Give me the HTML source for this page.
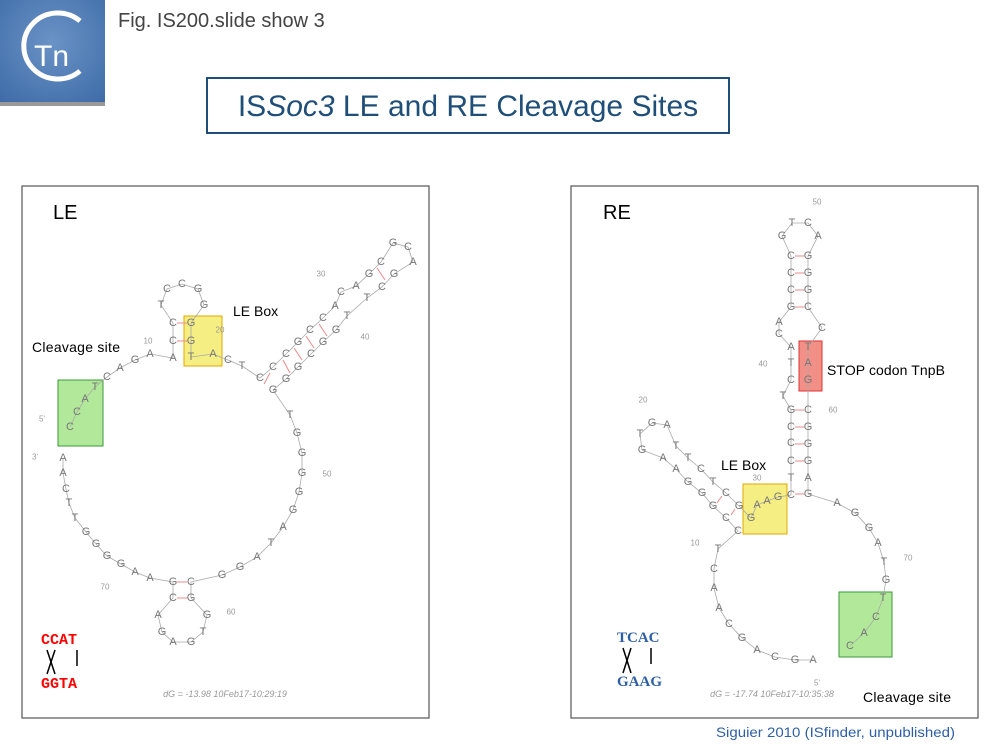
<!DOCTYPE html>
<html><head><meta charset="utf-8"><style>
body{margin:0;background:#fff;}
svg{display:block;font-family:"Liberation Sans",sans-serif;}
.n{font-size:11px;fill:#777;text-anchor:middle;dominant-baseline:central;}
.s{font-size:8px;fill:#999;text-anchor:middle;dominant-baseline:central;}
.bb{fill:none;stroke:#aaa;stroke-width:0.8;}
.lab{font-size:14px;fill:#000;}
</style></head><body>
<svg width="1000" height="750" viewBox="0 0 1000 750">
<defs><radialGradient id="lg" cx="0.5" cy="0.4" r="0.75"><stop offset="0" stop-color="#6a93c6"/><stop offset="1" stop-color="#3f6ca8"/></radialGradient></defs>
<rect x="0" y="0" width="105" height="104" fill="url(#lg)"/>
<rect x="0" y="102" width="105" height="4" fill="#999"/>
<path d="M80 21 A34 33 0 1 0 80 71" fill="none" stroke="#fff" stroke-width="5"/>
<text x="34" y="66" font-size="30" fill="#fff">Tn</text>
<text x="118" y="27" font-size="20" fill="#444">Fig. IS200.slide show 3</text>
<rect x="207" y="78" width="522" height="55" fill="#fff" stroke="#1f4e79" stroke-width="2"/>
<text x="468" y="116" font-size="30" fill="#1f4e79" text-anchor="middle">IS<tspan font-style="italic">Soc3</tspan> LE and RE Cleavage Sites</text>
<rect x="22" y="186" width="407" height="532" fill="#fff" stroke="#555" stroke-width="1.2"/>
<rect x="571" y="186" width="407" height="532" fill="#fff" stroke="#555" stroke-width="1.2"/>
<text x="716" y="737" font-size="14" fill="#2e5fa5" textLength="239" lengthAdjust="spacingAndGlyphs">Siguier 2010 (ISfinder, unpublished)</text>

<!-- LE -->
<rect x="58" y="380" width="45" height="66" fill="#9fe27f" fill-opacity="0.8" stroke="#3a9a3a"/>
<rect x="184" y="316" width="38" height="50" fill="#f2e85a" fill-opacity="0.75" stroke="#e0a800"/>
<polyline class="bb" points="70,427 77,412 85,399 95,387 107,377 120,368 135,360 150,354 173,358 173,341 173,323 161,305 167,289 182,284 198,289 204,305 191,323 191,341 191,357 213,354 228,360 242,366 260,378 273,367 286,354 298,342 310,330 323,318 335,306 341,292 356,286 369,274 381,262 393,243 408,247 413,262 394,274 382,287 367,298 347,316 336,330 323,342 311,354 298,367 286,379 273,390 290,415 297,433 302,453 302,473 299,492 293,510 283,527 271,543 257,557 240,567 222,575 191,582 191,598 207,615 203,632 191,642 173,642 162,632 158,615 173,598 173,582 150,578 135,572 121,564 107,556 96,544 86,532 75,518 69,503 66,489 63,473 63,458"/>
<g stroke="#e88" stroke-width="1"><line x1="177" y1="323" x2="187" y2="323"/><line x1="177" y1="341" x2="187" y2="341"/><line x1="264" y1="384" x2="270" y2="373"/><line x1="290" y1="373" x2="283" y2="360"/><line x1="302" y1="360" x2="294" y2="348"/><line x1="314" y1="348" x2="306" y2="336"/><line x1="327" y1="336" x2="319" y2="324"/><line x1="385" y1="280" x2="377" y2="268"/><line x1="177" y1="582" x2="187" y2="582"/><line x1="177" y1="598" x2="187" y2="598"/></g>
<g class="n">
<text x="70" y="427">C</text><text x="77" y="412">C</text><text x="85" y="399">A</text><text x="95" y="387">T</text><text x="107" y="377">C</text><text x="120" y="368">A</text><text x="135" y="360">G</text><text x="150" y="354">A</text><text x="173" y="358">A</text><text x="173" y="341">C</text><text x="173" y="323">C</text><text x="161" y="305">T</text><text x="167" y="289">C</text><text x="182" y="284">C</text><text x="198" y="289">G</text><text x="204" y="305">G</text><text x="191" y="323">G</text><text x="191" y="341">G</text><text x="191" y="357">T</text><text x="213" y="354">A</text><text x="228" y="360">C</text><text x="242" y="366">T</text><text x="260" y="378">C</text><text x="273" y="367">C</text><text x="286" y="354">C</text><text x="298" y="342">G</text><text x="310" y="330">C</text><text x="323" y="318">C</text><text x="335" y="306">A</text><text x="341" y="292">C</text><text x="356" y="286">A</text><text x="369" y="274">G</text><text x="381" y="262">C</text><text x="393" y="243">G</text><text x="408" y="247">C</text><text x="413" y="262">A</text><text x="394" y="274">G</text><text x="382" y="287">C</text><text x="367" y="298">T</text><text x="347" y="316">T</text><text x="336" y="330">G</text><text x="323" y="342">G</text><text x="311" y="354">C</text><text x="298" y="367">G</text><text x="286" y="379">G</text><text x="273" y="390">G</text><text x="290" y="415">T</text><text x="297" y="433">G</text><text x="302" y="453">G</text><text x="302" y="473">G</text><text x="299" y="492">G</text><text x="293" y="510">G</text><text x="283" y="527">A</text><text x="271" y="543">T</text><text x="257" y="557">A</text><text x="240" y="567">G</text><text x="222" y="575">G</text><text x="191" y="582">C</text><text x="191" y="598">G</text><text x="207" y="615">G</text><text x="203" y="632">T</text><text x="191" y="642">G</text><text x="173" y="642">A</text><text x="162" y="632">G</text><text x="158" y="615">A</text><text x="173" y="598">C</text><text x="173" y="582">G</text><text x="150" y="578">A</text><text x="135" y="572">A</text><text x="121" y="564">G</text><text x="107" y="556">G</text><text x="96" y="544">G</text><text x="86" y="532">G</text><text x="75" y="518">T</text><text x="69" y="503">T</text><text x="66" y="489">C</text><text x="63" y="473">A</text><text x="63" y="458">A</text>
</g>
<g class="s"><text x="42" y="419">5'</text><text x="35" y="457">3'</text><text x="148" y="341">10</text><text x="220" y="330">20</text><text x="321" y="274">30</text><text x="365" y="337">40</text><text x="327" y="474">50</text><text x="231" y="612">60</text><text x="105" y="587">70</text></g>
<text x="53" y="219" font-size="20" fill="#000">LE</text>
<text x="233" y="316" class="lab">LE Box</text>
<text x="32" y="352" class="lab" textLength="88">Cleavage site</text>
<g font-family="Liberation Mono,monospace" font-weight="bold" font-size="15" fill="#f00"><text x="41" y="644">CCAT</text><text x="41" y="688">GGTA</text></g>
<g stroke="#000" stroke-width="1.5"><line x1="47" y1="650" x2="55" y2="674"/><line x1="55" y1="650" x2="47" y2="674"/><line x1="77" y1="650" x2="77" y2="666"/></g>
<text x="225" y="697" font-size="9" fill="#999" font-style="italic" text-anchor="middle">dG = -13.98 10Feb17-10:29:19</text>

<!-- RE -->
<rect x="799" y="341" width="23" height="50" fill="#ee6a5e" fill-opacity="0.75" stroke="#d33"/>
<rect x="743" y="484" width="44" height="50" fill="#f2e85a" fill-opacity="0.75" stroke="#e0a800"/>
<rect x="839" y="592" width="53" height="65" fill="#9fe27f" fill-opacity="0.8" stroke="#3a9a3a"/>
<polyline class="bb" points="813,660 795,660 775,657 757,650 742,638 729,624 719,608 714,588 714,569 718,549 738,531 726,518 713,506 702,493 688,482 676,469 663,458 642,450 640,434 652,423 667,425 676,446 688,458 701,469 713,482 726,493 739,506 751,518 757,505 767,501 778,497 791,495 791,478 791,461 791,443 791,427 791,410 783,396 791,380 791,363 791,347 779,334 779,322 791,307 791,290 791,273 791,256 782,236 792,223 808,223 818,236 808,256 808,273 808,290 808,307 822,328 808,347 808,363 808,380 808,410 808,427 808,444 808,461 808,478 808,494 837,503 855,513 869,528 878,543 884,562 886,580 883,598 876,617 864,633 850,646"/>
<g stroke="#e88" stroke-width="1"><line x1="795" y1="256" x2="804" y2="256"/><line x1="795" y1="273" x2="804" y2="273"/><line x1="795" y1="290" x2="804" y2="290"/><line x1="795" y1="307" x2="804" y2="307"/><line x1="795" y1="410" x2="804" y2="410"/><line x1="795" y1="427" x2="804" y2="427"/><line x1="795" y1="444" x2="804" y2="444"/><line x1="795" y1="461" x2="804" y2="461"/><line x1="795" y1="494" x2="804" y2="494"/><line x1="731" y1="515" x2="735" y2="509"/><line x1="717" y1="503" x2="722" y2="496"/></g>
<g class="n">
<text x="813" y="660">A</text><text x="795" y="660">G</text><text x="775" y="657">C</text><text x="757" y="650">A</text><text x="742" y="638">G</text><text x="729" y="624">C</text><text x="719" y="608">A</text><text x="714" y="588">A</text><text x="714" y="569">C</text><text x="718" y="549">T</text><text x="738" y="531">C</text><text x="726" y="518">C</text><text x="713" y="506">G</text><text x="702" y="493">G</text><text x="688" y="482">G</text><text x="676" y="469">A</text><text x="663" y="458">A</text><text x="642" y="450">G</text><text x="640" y="434">T</text><text x="652" y="423">G</text><text x="667" y="425">A</text><text x="676" y="446">T</text><text x="688" y="458">T</text><text x="701" y="469">C</text><text x="713" y="482">T</text><text x="726" y="493">C</text><text x="739" y="506">G</text><text x="751" y="518">G</text><text x="757" y="505">A</text><text x="767" y="501">A</text><text x="778" y="497">G</text><text x="791" y="495">C</text><text x="791" y="478">T</text><text x="791" y="461">C</text><text x="791" y="443">C</text><text x="791" y="427">C</text><text x="791" y="410">G</text><text x="783" y="396">T</text><text x="791" y="380">C</text><text x="791" y="363">T</text><text x="791" y="347">A</text><text x="779" y="334">C</text><text x="779" y="322">A</text><text x="791" y="307">G</text><text x="791" y="290">C</text><text x="791" y="273">C</text><text x="791" y="256">C</text><text x="782" y="236">G</text><text x="792" y="223">T</text><text x="808" y="223">C</text><text x="818" y="236">A</text><text x="808" y="256">G</text><text x="808" y="273">G</text><text x="808" y="290">G</text><text x="808" y="307">C</text><text x="822" y="328">C</text><text x="808" y="347">T</text><text x="808" y="363">A</text><text x="808" y="380">G</text><text x="808" y="410">C</text><text x="808" y="427">G</text><text x="808" y="444">G</text><text x="808" y="461">G</text><text x="808" y="478">A</text><text x="808" y="494">G</text><text x="837" y="503">A</text><text x="855" y="513">G</text><text x="869" y="528">G</text><text x="878" y="543">A</text><text x="884" y="562">T</text><text x="886" y="580">G</text><text x="883" y="598">T</text><text x="876" y="617">C</text><text x="864" y="633">A</text><text x="850" y="646">C</text>
</g>
<g class="s"><text x="817" y="683">5'</text><text x="817" y="202">50</text><text x="763" y="364">40</text><text x="833" y="410">60</text><text x="643" y="400">20</text><text x="757" y="478">30</text><text x="695" y="543">10</text><text x="908" y="558">70</text></g>
<text x="603" y="219" font-size="20" fill="#000">RE</text>
<text x="827" y="375" class="lab" textLength="118">STOP codon TnpB</text>
<text x="721" y="470" class="lab">LE Box</text>
<text x="863" y="702" class="lab" textLength="88">Cleavage site</text>
<g font-family="Liberation Serif,serif" font-weight="bold" font-size="15" fill="#2e5fa5"><text x="617" y="642">TCAC</text><text x="617" y="686">GAAG</text></g>
<g stroke="#000" stroke-width="1.5"><line x1="623" y1="648" x2="631" y2="673"/><line x1="631" y1="648" x2="623" y2="673"/><line x1="651" y1="648" x2="651" y2="664"/></g>
<text x="772" y="697" font-size="9" fill="#999" font-style="italic" text-anchor="middle">dG = -17.74 10Feb17-10:35:38</text>
</svg>
</body></html>
